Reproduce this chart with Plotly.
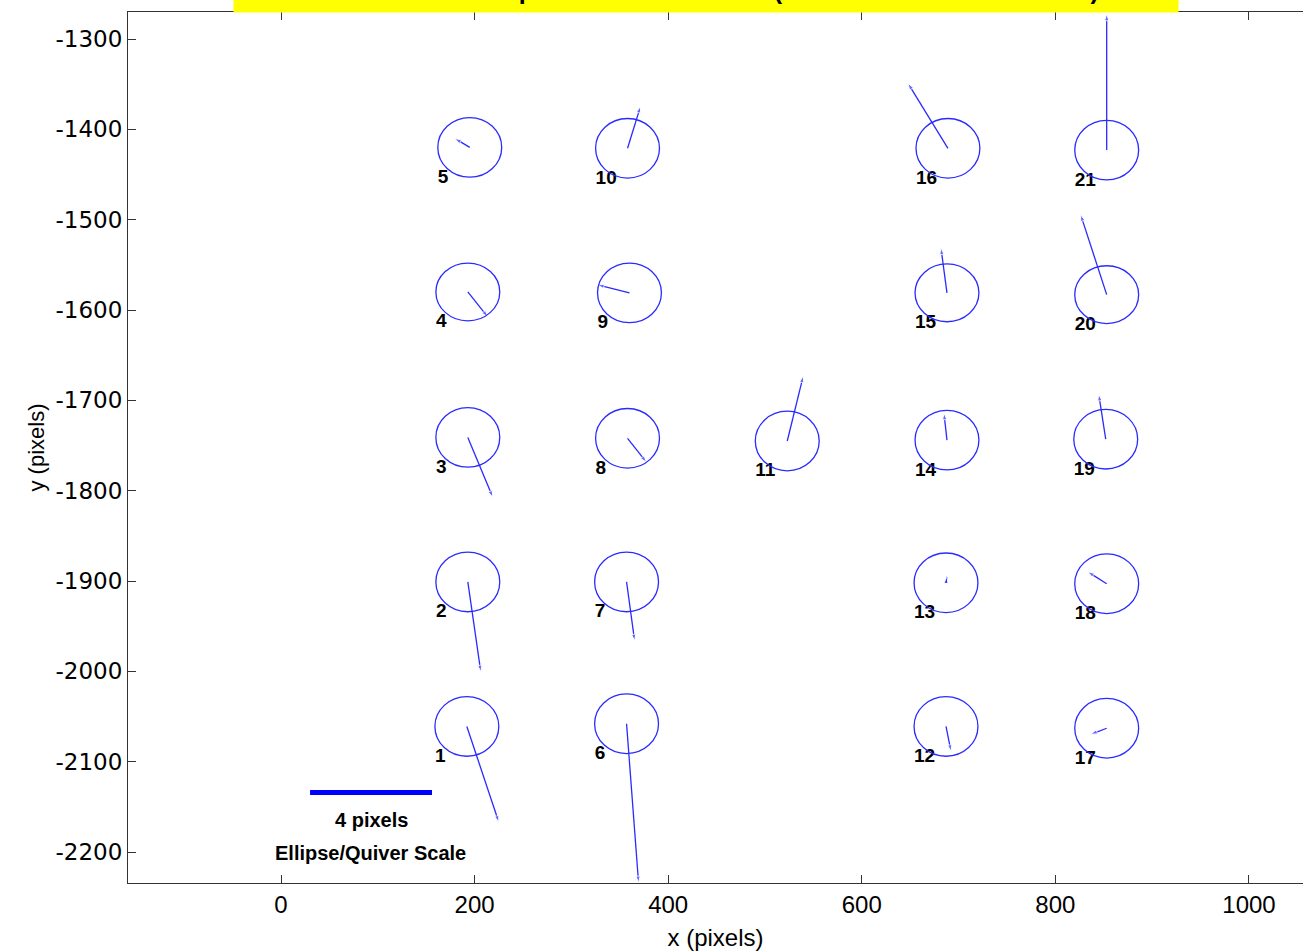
import plotly.graph_objects as go

# ---------------- data ----------------
station_ids = [str(i) for i in range(1, 22)]
station_x = [192, 193, 193, 193, 195,
             357, 357, 358, 360, 358,
             523,
             687, 687, 688, 688, 689,
             853, 853, 852, 853, 853]
station_y = [-2061, -1901, -1741, -1580, -1420,
             -2058, -1901, -1742, -1581, -1421,
             -1745,
             -2061, -1902, -1744, -1581, -1421,
             -2063, -1903, -1743, -1583, -1423]
# quiver components (plot units)
quiver_u = [33, 13.4, 25.8, 20.7, -15.5,
            12.4, 8.3, 19.6, -33, 13.4,
            16.5,
            5.2, 1, -3.1, -6.2, -41.3,
            -16.5, -19.6, -7.2, -26.9, 0]
quiver_v = [-106, -99.6, -66.4, -27.7, 10,
            -176, -65.3, -26.6, 8.9, 46.5,
            72,
            -27.7, 6.6, 29.9, 49.8, 72,
            -6.6, 13.3, 49.8, 88.6, 150.6]
# ellipse semi-axes (plot units)
ellipse_rx = [33, 33, 33, 33, 33,
              33, 33, 33, 33, 33,
              33,
              33, 33, 33, 33, 33,
              33, 33, 33, 33, 33]
ellipse_ry = [33, 33, 33, 32, 33,
              33, 33, 33, 33, 33,
              33,
              33, 33, 33, 32, 33,
              33, 33, 33, 32, 33]

x_tick_vals = [0, 200, 400, 600, 800, 1000]
x_tick_text = ["0", "200", "400", "600", "800", "1000"]
y_tick_vals = [-1300, -1400, -1500, -1600, -1700, -1800, -1900, -2000, -2100, -2200]
y_tick_text = ["-1300", "-1400", "-1500", "-1600", "-1700",
               "-1800", "-1900", "-2000", "-2100", "-2200"]

scale_bar_x = [30, 156]
scale_bar_y = [-2134, -2134]
scale_bar_label = "4 pixels"
scale_caption = "Ellipse/Quiver Scale"
title_text = "Station Offset Map for the Camera Tile (Relative to Mean Location)"

# ---------------- style ----------------
BLUE = "#2a2aff"
FONT = "Liberation Sans, Arial, sans-serif"
label_dx, label_dy = -33, -34

fig = go.Figure()

# quiver arrows
for x0, y0, u, v in zip(station_x, station_y, quiver_u, quiver_v):
    fig.add_trace(go.Scatter(
        x=[x0, x0 + u], y=[y0, y0 + v],
        mode="lines+markers",
        line=dict(color=BLUE, width=1.3),
        marker=dict(symbol="arrow", size=[0, 7], angleref="previous", color=BLUE),
        hoverinfo="skip", showlegend=False))

# ellipses
for x0, y0, rx, ry in zip(station_x, station_y, ellipse_rx, ellipse_ry):
    fig.add_shape(type="circle", xref="x", yref="y",
                  x0=x0 - rx, x1=x0 + rx, y0=y0 - ry, y1=y0 + ry,
                  line=dict(color=BLUE, width=1.3), layer="above")

# station labels
fig.add_trace(go.Scatter(
    x=[x + label_dx for x in station_x],
    y=[y + label_dy for y in station_y],
    text=["<b>" + s + "</b>" for s in station_ids],
    mode="text", textposition="middle right",
    textfont=dict(family=FONT, size=19, color="black"),
    hoverinfo="skip", showlegend=False))

# scale bar
fig.add_trace(go.Scatter(
    x=scale_bar_x, y=scale_bar_y, mode="lines",
    line=dict(color="#0000ff", width=5),
    hoverinfo="skip", showlegend=False))
mid_x = (scale_bar_x[0] + scale_bar_x[1]) / 2
fig.add_annotation(x=mid_x, y=scale_bar_y[0] - 31, xref="x", yref="y",
                   text="<b>" + scale_bar_label + "</b>", showarrow=False,
                   font=dict(family=FONT, size=20, color="black"))
fig.add_annotation(x=mid_x - 1, y=scale_bar_y[0] - 67, xref="x", yref="y",
                   text="<b>" + scale_caption + "</b>", showarrow=False,
                   font=dict(family=FONT, size=20, color="black"))

# title box (mostly cut off at top of page, as in the reference)
fig.add_annotation(x=(706 - 128) / 1175, y=1 - 0.5 / 871, xref="paper", yref="paper",
                   xanchor="center", yanchor="bottom",
                   text="<b>" + title_text + "</b>", showarrow=False,
                   bgcolor="#ffff00", width=944, height=45, borderpad=0,
                   valign="middle",
                   font=dict(family=FONT, size=25, color="black"))

axis_common = dict(showgrid=False, zeroline=False, showline=True,
                   linecolor="#333333", linewidth=1,
                   ticks="inside", ticklen=8, tickcolor="#333333")

fig.update_layout(
    width=1303, height=952,
    margin=dict(l=128, r=0, t=12, b=69),
    paper_bgcolor="white", plot_bgcolor="white",
    font=dict(family=FONT, color="black"),
    xaxis=dict(range=[-158.06, 1055.8], tickvals=x_tick_vals, ticktext=x_tick_text,
               tickfont=dict(family=FONT, size=24), mirror="ticks",
               title=dict(text="x (pixels)", font=dict(family=FONT, size=24), standoff=12),
               **axis_common),
    yaxis=dict(range=[-2234.3, -1270.1], tickvals=y_tick_vals, ticktext=y_tick_text,
               tickfont=dict(family="DejaVu Sans, sans-serif", size=23), mirror=False,
               title=dict(text="y (pixels)", font=dict(family=FONT, size=22), standoff=4),
               **axis_common),
)

fig.write_html("out.html")
